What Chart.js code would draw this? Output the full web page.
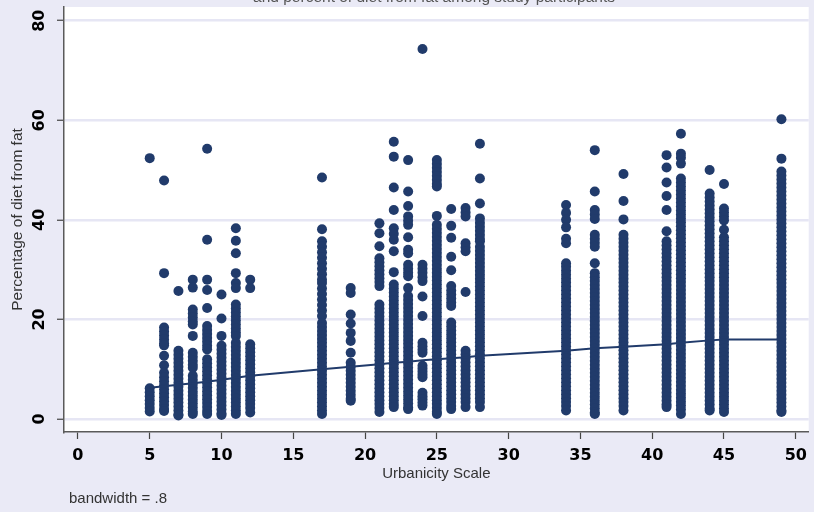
<!DOCTYPE html>
<html>
<head>
<meta charset="utf-8">
<script src="https://cdn.jsdelivr.net/npm/chart.js@4.4.1/dist/chart.umd.min.js"></script>
<style>
  html, body { margin:0; padding:0; background:#eaeaf6; }
  #wrap { width:814px; height:512px; }
</style>
</head>
<body>
<div id="wrap"><canvas id="fatChart" width="814" height="512"></canvas></div>
<script>
const chartTitle = 'and percent of diet from fat among study participants';
const xTitle = 'Urbanicity Scale';
const yTitle = 'Percentage of diet from fat';
const noteText = 'bandwidth = .8';

const xTicks = [0, 5, 10, 15, 20, 25, 30, 35, 40, 45, 50];
const yTicks = [0, 20, 40, 60, 80];

// urbanicity score of each column of respondents
const urbanicity = [5, 6, 7, 8, 9, 10, 11, 12, 17, 19, 21, 22, 23, 24, 25, 26, 27, 28, 34, 36, 38, 41, 42, 44, 45, 49];

// percent of diet from fat, one row per urbanicity score
const fatPct = [
  [52.4, 6.2, 5.4, 4.6, 3.8, 3, 2.2, 1.5],
  [47.9, 29.3, 18.4, 17.6, 16.8, 16, 15.2, 14.8, 12.7, 10.8, 9.3, 8.4, 7.6, 6.8, 6, 5.2, 4.4, 3.6, 2.8, 2, 1.6],
  [25.7, 13.7, 12.9, 12.1, 11.3, 10.5, 9.7, 8.9, 8.1, 7.3, 6.5, 5.7, 4.9, 4.1, 3.3, 2.5, 1.7, 0.9, 0.7],
  [28, 26.4, 22, 21.2, 20.4, 19.6, 19, 16.7, 13.3, 12.5, 11.7, 10.9, 10.3, 8.7, 7.9, 7.1, 6.3, 5.5, 4.7, 3.9, 3.1, 2.3, 1.5, 1],
  [54.3, 36, 28, 25.9, 22.3, 18.7, 17.9, 17.1, 16.3, 15.5, 14.7, 14, 12, 11.2, 10.4, 9.6, 8.8, 8, 7.2, 6.4, 5.6, 4.8, 4, 3.2, 2.4, 1.6, 1],
  [25, 20.2, 16.7, 14.7, 13.9, 13.1, 12.3, 11.5, 10.7, 9.9, 9.1, 8.3, 7.5, 6.7, 5.9, 5.1, 4.3, 3.5, 2.7, 1.9, 1.1, 0.8],
  [38.3, 35.8, 33.3, 29.3, 27.3, 26.3, 23, 22.2, 21.4, 20.6, 19.8, 19, 18.2, 17.4, 16.7, 15.3, 14.5, 13.7, 12.9, 12.1, 11.3, 10.5, 9.7, 8.9, 8.1, 7.3, 6.5, 5.7, 4.9, 4.1, 3.3, 2.5, 1.7, 1],
  [28, 26.3, 15, 14.2, 13.4, 12.6, 11.8, 11, 10.2, 9.4, 8.6, 7.8, 7, 6.2, 5.4, 4.6, 3.8, 3, 2.2, 1.3],
  [48.5, 38.1, 35.7, 34.6, 33.5, 32.4, 31.3, 30.2, 29.1, 28, 27.3, 26.2, 25.1, 24, 22.9, 21.8, 20.7, 19.3, 18.5, 17.7, 16.9, 16.1, 15.3, 14.5, 13.7, 12.9, 12.1, 11.3, 10.5, 9.7, 8.9, 8.1, 7.3, 6.5, 5.7, 4.9, 4.1, 3.3, 2.5, 1.7, 1],
  [26.3, 25.3, 21, 19.2, 17.3, 15.7, 13.3, 11.3, 10.5, 9.7, 8.9, 8.1, 7.3, 6.5, 5.7, 4.9, 4.1, 3.7],
  [39.3, 37.3, 34.7, 32.3, 31.5, 30.7, 29.9, 29.1, 28.3, 27.5, 26.7, 23, 22.2, 21.4, 20.6, 19.8, 19, 18.2, 17.4, 16.6, 15.8, 15, 14.2, 13.4, 12.6, 11.8, 11, 10.2, 9.4, 8.6, 7.8, 7, 6.2, 5.4, 4.6, 3.8, 3, 2.2, 1.4],
  [55.7, 52.7, 46.5, 42, 38.3, 37.2, 36, 33.7, 29.5, 27, 26.2, 25.4, 24.6, 23.8, 23, 22.2, 21.4, 20.6, 19.8, 19, 18.2, 17.4, 16.6, 15.8, 15, 14.2, 13.4, 12.6, 11.8, 11, 10.2, 9.4, 8.6, 7.8, 7, 6.2, 5.4, 4.6, 3.8, 3, 2.4],
  [52, 45.7, 42.8, 40.7, 39.8, 39, 36.5, 34, 33.3, 31, 30.2, 29.4, 28.7, 26.3, 24.7, 23.9, 23.1, 22.3, 21.5, 20.7, 19.9, 19.1, 18.3, 17.5, 16.7, 15.9, 15.1, 14.3, 13.5, 12.7, 11.9, 11.1, 10.3, 9.5, 8.7, 7.9, 7.1, 6.3, 5.5, 4.7, 3.9, 3.1, 2.3, 2],
  [74.3, 31, 30.2, 29.4, 28.5, 27.7, 24.6, 20.7, 15.3, 14.6, 13.9, 13.3, 10.7, 10.1, 9.5, 8.9, 8.4, 5.3, 4.6, 4, 3.3, 2.7],
  [52, 51.2, 50.4, 49.6, 48.8, 48, 47.2, 46.7, 40.8, 39, 38.2, 37.4, 36.6, 35.8, 35, 34.2, 33.4, 32.6, 31.8, 31, 30.2, 29.4, 28.6, 27.8, 27, 26.2, 25.4, 24.6, 23.8, 23, 22.2, 21.4, 20.6, 19.8, 19, 18.2, 17.4, 16.6, 15.8, 15, 14.2, 13.4, 12.6, 11.8, 11, 10.2, 9.4, 8.6, 7.8, 7, 6.2, 5.4, 4.6, 3.8, 3, 2.2, 1.4, 1],
  [42.2, 38.8, 36.4, 32.6, 29.9, 26.7, 25.8, 25, 24.2, 23.4, 22.7, 19.4, 18.6, 17.8, 17, 16.2, 15.4, 14.6, 13.8, 13, 12.2, 11.4, 10.6, 9.8, 9, 8.2, 7.4, 6.6, 5.8, 5, 4.2, 3.4, 2.6, 2],
  [42.4, 41.5, 40.7, 35.3, 34.5, 33.7, 25.5, 13.7, 13, 12.2, 11.4, 10.6, 9.8, 9, 8.2, 7.4, 6.6, 5.8, 5, 4.2, 3.4, 2.4],
  [55.3, 48.3, 43.3, 40.3, 39.4, 38.6, 37.8, 37, 36.2, 35.7, 34.6, 33.8, 33, 32.2, 31.4, 30.6, 29.8, 29, 28.2, 27.4, 26.6, 25.8, 25, 24.2, 23.4, 22.6, 21.8, 21, 20.2, 19.4, 18.6, 17.8, 17, 16.2, 15.4, 14.6, 13.8, 13, 12.2, 11.4, 10.6, 9.8, 9, 8.2, 7.4, 6.6, 5.8, 5, 4.2, 3.4, 2.4],
  [43, 41.4, 40, 38.5, 36.2, 35.3, 31.3, 30.6, 29.8, 29, 28.2, 27.4, 26.6, 25.8, 25, 24.2, 23.4, 22.6, 21.8, 21, 20.2, 19.4, 18.6, 17.8, 17, 16.2, 15.4, 14.6, 13.8, 13, 12.2, 11.4, 10.6, 9.8, 9, 8.2, 7.4, 6.6, 5.8, 5, 4.2, 3.4, 2.6, 1.7],
  [54, 45.7, 42, 41.1, 40.2, 37, 36.2, 35.4, 34.6, 31.3, 29.3, 28.5, 27.7, 26.9, 26.1, 25.3, 24.5, 23.7, 22.9, 22.1, 21.3, 20.5, 19.7, 18.9, 18.1, 17.3, 16.5, 15.7, 14.9, 14.1, 13.3, 12.5, 11.7, 10.9, 10.1, 9.3, 8.5, 7.7, 6.9, 6.1, 5.3, 4.5, 3.7, 2.9, 2.1, 1.3, 1],
  [49.2, 43.8, 40.1, 37, 36.2, 35.4, 34.6, 33.8, 33, 32.2, 31.4, 30.6, 29.8, 29, 28.2, 27.4, 26.6, 25.8, 25, 24.2, 23.4, 22.6, 21.8, 21, 20.2, 19.4, 18.6, 17.8, 17, 16.2, 15.4, 14.6, 13.8, 13, 12.2, 11.4, 10.6, 9.8, 9, 8.2, 7.4, 6.6, 5.8, 5, 4.2, 3.4, 2.6, 1.7],
  [53, 50.5, 47.5, 44.8, 42, 37.7, 35.7, 34.9, 34.1, 33.3, 32.5, 31.7, 30.9, 30.1, 29.3, 28.5, 27.7, 26.9, 26.1, 25.3, 24.5, 23.7, 22.9, 22.1, 21.3, 20.5, 19.7, 18.9, 18.1, 17.3, 16.5, 15.7, 14.9, 14.1, 13.3, 12.5, 11.7, 10.9, 10.1, 9.3, 8.5, 7.7, 6.9, 6.1, 5.3, 4.5, 3.7, 2.9, 2.4],
  [57.3, 53.3, 52.5, 51.3, 48.3, 47.5, 46.7, 45.9, 45.1, 44.3, 43.5, 42.7, 41.9, 41.1, 40.3, 39.5, 38.7, 37.9, 37.1, 36.3, 35.5, 34.7, 33.9, 33.1, 32.3, 31.5, 30.7, 29.9, 29.1, 28.3, 27.5, 26.7, 25.9, 25.1, 24.3, 23.5, 22.7, 21.9, 21.1, 20.3, 19.5, 18.7, 17.9, 17.1, 16.3, 15.5, 14.7, 13.9, 13.1, 12.3, 11.5, 10.7, 9.9, 9.1, 8.3, 7.5, 6.7, 5.9, 5.1, 4.3, 3.5, 2.7, 1.9, 1],
  [50, 45.3, 44.5, 43.7, 42.9, 42.1, 41.3, 40.5, 39.7, 38.9, 38.1, 37.3, 36.5, 35.7, 34.9, 34.1, 33.3, 32.5, 31.7, 30.9, 30.1, 29.3, 28.5, 27.7, 26.9, 26.1, 25.3, 24.5, 23.7, 22.9, 22.1, 21.3, 20.5, 19.7, 18.9, 18.1, 17.3, 16.5, 15.7, 14.9, 14.1, 13.3, 12.5, 11.7, 10.9, 10.1, 9.3, 8.5, 7.7, 6.9, 6.1, 5.3, 4.5, 3.7, 2.9, 2.1, 1.7],
  [47.2, 42.3, 41.5, 40.7, 39.9, 38, 36.5, 35.7, 34.9, 34.1, 33.3, 32.5, 31.7, 30.9, 30.1, 29.3, 28.5, 27.7, 26.9, 26.1, 25.3, 24.5, 23.7, 22.9, 22.1, 21.3, 20.5, 19.7, 18.9, 18.1, 17.3, 16.5, 15.7, 14.9, 14.1, 13.3, 12.5, 11.7, 10.9, 10.1, 9.3, 8.5, 7.7, 6.9, 6.1, 5.3, 4.5, 3.7, 2.9, 2.1, 1.4],
  [60.2, 52.3, 49.7, 48.9, 48.1, 47.3, 46.5, 45.7, 44.9, 44.1, 43.3, 42.5, 41.7, 40.9, 40.1, 39.3, 38.5, 37.7, 36.9, 36.1, 35.3, 34.5, 33.7, 32.9, 32.1, 31.3, 30.5, 29.7, 28.9, 28.1, 27.3, 26.5, 25.7, 24.9, 24.1, 23.3, 22.5, 21.7, 20.9, 20.1, 19.3, 18.5, 17.7, 16.9, 16.1, 15.3, 14.5, 13.7, 12.9, 12.1, 11.3, 10.5, 9.7, 8.9, 8.1, 7.3, 6.5, 5.7, 4.9, 4.1, 3.3, 2.5, 1.7, 1.4]
];

// lowess smooth at each urbanicity score
const lowessFit = [6.3, 6.6, 6.9, 7.2, 7.5, 7.9, 8.3, 8.7, 10.0, 10.5, 11.0, 11.3, 11.5, 11.8, 12.0, 12.2, 12.4, 12.7, 13.7, 14.2, 14.5, 15.0, 15.3, 15.8, 16.0, 16.0];

const navy = '#213b6b';
const gridLavender = '#e6e6f4';
const titleFont = '"Liberation Sans", Arial, sans-serif';
const tickFont = '"DejaVu Sans", Verdana, sans-serif';

function buildPoints() {
    let pts = [];
    urbanicity.forEach((u, i) => {
        fatPct[i].forEach(v => pts.push({ x: u, y: v }));
    });
    return pts;
}

// white plot region + rotated y labels + title/note text
const stataLook = {
    id: 'stataLook',
    beforeDraw(chart) {
        const { ctx, chartArea: a } = chart;
        ctx.save();
        ctx.fillStyle = '#ffffff';
        ctx.fillRect(a.left, a.top, a.right - a.left, a.bottom - a.top);
        ctx.restore();
    },
    afterDraw(chart) {
        const ctx = chart.ctx;
        const y = chart.scales.y;
        ctx.save();
        ctx.fillStyle = '#000';
        ctx.font = 'bold 16px ' + tickFont;
        ctx.textAlign = 'center';
        ctx.textBaseline = 'middle';
        yTicks.forEach(v => {
            ctx.save();
            ctx.translate(40, y.getPixelForValue(v));
            ctx.rotate(-Math.PI / 2);
            ctx.fillText(String(v), 0, 0);
            ctx.restore();
        });
        ctx.fillStyle = '#555';
        ctx.font = '15.5px ' + titleFont;
        ctx.textBaseline = 'alphabetic';
        ctx.fillText(chartTitle, 434, 2);
        ctx.fillStyle = '#333';
        ctx.font = '15px ' + titleFont;
        ctx.textAlign = 'left';
        ctx.textBaseline = 'middle';
        ctx.fillText(noteText, 69, 499);
        ctx.restore();
    }
};

const chart = new Chart(document.getElementById('fatChart'), {
    type: 'scatter',
    data: {
        datasets: [
            {
                type: 'line',
                data: urbanicity.map((u, i) => ({ x: u, y: lowessFit[i] })),
                borderColor: navy,
                borderWidth: 2,
                pointRadius: 0,
                fill: false,
                tension: 0
            },
            {
                data: buildPoints(),
                backgroundColor: navy,
                borderColor: navy,
                borderWidth: 0,
                pointRadius: 5,
                pointHoverRadius: 5
            }
        ]
    },
    options: {
        responsive: false,
        animation: false,
        devicePixelRatio: 1,
        layout: { padding: { top: 7, right: 2, left: 0, bottom: 0 } },
        plugins: { legend: { display: false }, tooltip: { enabled: false } },
        scales: {
            x: {
                type: 'linear',
                min: -0.97,
                max: 50.9,
                afterFit: s => { s.height = 80; },
                afterBuildTicks: s => { s.ticks = xTicks.map(v => ({ value: v })); },
                border: { display: true, color: '#5a5a5a', width: 1.5 },
                grid: { drawOnChartArea: false, drawTicks: true, tickLength: 7, tickColor: '#444', tickWidth: 1.2 },
                ticks: { color: '#000', font: { family: tickFont, size: 16, weight: 'bold' }, padding: 7, maxRotation: 0 },
                title: { display: true, text: xTitle, color: '#333', font: { family: titleFont, size: 15 }, padding: { top: 0, bottom: 29 } }
            },
            y: {
                type: 'linear',
                min: -2.6,
                max: 82.75,
                afterFit: s => { s.width = 64; },
                afterBuildTicks: s => { s.ticks = yTicks.map(v => ({ value: v })); },
                border: { display: true, color: '#5a5a5a', width: 1.5 },
                grid: { color: gridLavender, lineWidth: 2.5, drawTicks: true, tickLength: 7, tickColor: '#444', tickWidth: 1.2 },
                ticks: { display: false },
                title: { display: true, text: yTitle, color: '#333', font: { family: titleFont, size: 15.5 }, padding: { top: 8, bottom: 0 } }
            }
        }
    },
    plugins: [stataLook]
});
</script>
</body>
</html>
